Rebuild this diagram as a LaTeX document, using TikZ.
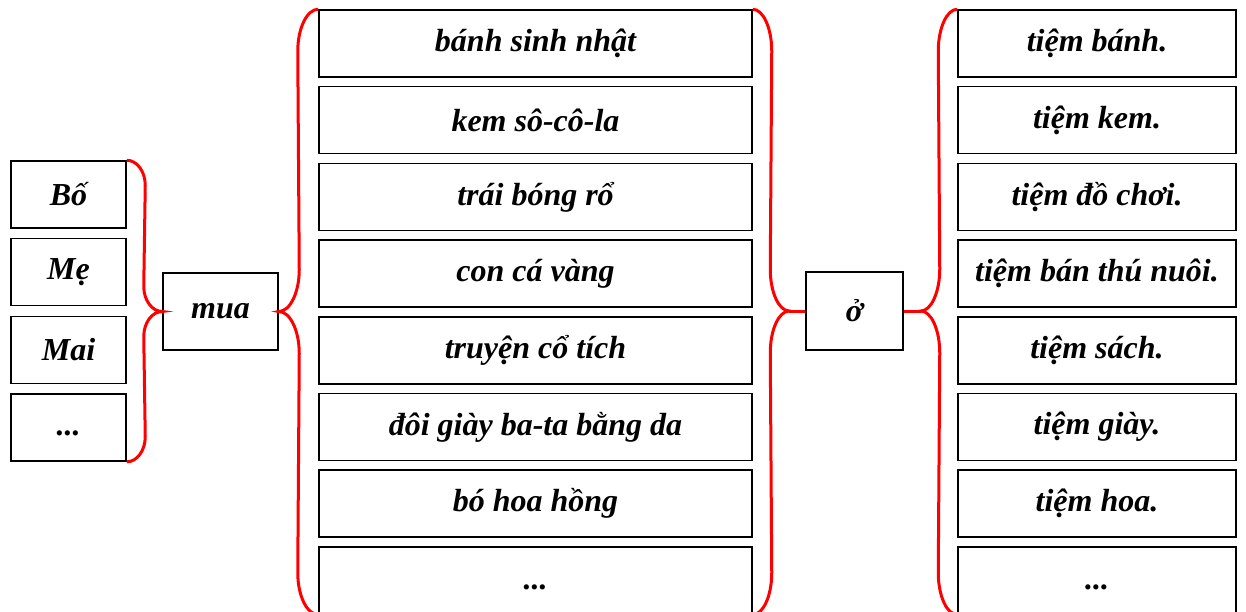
\documentclass[tikz,border=0pt]{standalone}
\usepackage{fontspec}
\setmainfont{Liberation Serif}
\usetikzlibrary{calc}

\tikzset{
  word/.style={rectangle, draw, line width=1.5pt,
               inner sep=0pt, minimum height=67pt,
               font=\fontsize{32}{38}\selectfont\bfseries\itshape},
  redbrace/.style={draw=red, line width=3pt},
}

% #1 top end, #2 bottom end, #3 tip, #4 bulge (signed), #5 curve height
\newcommand{\curlybrace}[5]{%
  \draw[redbrace] (#1) .. controls +({0.55*(#4)},0) and +(0,{0.55*#5}) .. ($(#1)+(#4,-#5)$)
    -- ($(#3)-(#4,-#5)$) .. controls +(0,{-0.55*#5}) and +({-0.55*(#4)},0) .. (#3)
    .. controls +({-0.55*(#4)},0) and +(0,{0.55*#5}) .. ($(#3)-(#4,#5)$)
    -- ($(#2)+(#4,#5)$) .. controls +(0,{-0.55*#5}) and +({0.55*(#4)},0) .. (#2);}

\begin{document}
\begin{tikzpicture}[x=1pt,y=1pt]
    \useasboundingbox (0,0) rectangle (1246,-612);

    % Who

    \node (bo)  [word, minimum width=115pt] at (68.5,-194.5) {Bố};
    \node (me)  [word, minimum width=115pt] at (68.5,-272.2) {Mẹ};
    \node (mai) [word, minimum width=115pt] at (68.5,-349.9) {Mai};
    \node (etc) [word, minimum width=115pt, text height=22.5pt, text depth=6pt]
          at (68.5,-427.6) {...};

    \node (mua) [word, minimum width=115pt, minimum height=77pt]
          at (220.5,-311.5) {mua};
    \curlybrace{bo.north east}{etc.south east}{mua.west}{18.5}{25}

    % What

    \foreach \txt [count=\i] in {bánh sinh nhật, kem sô-cô-la, trái bóng rổ,
        con cá vàng, truyện cổ tích, đôi giày ba-ta bằng da, bó hoa hồng}
      \node (m\i) [word, minimum width=433pt]
            at (535.5,{-43.5-76.7*(\i-1)}) {\txt};
    \node (m8) [word, minimum width=433pt, text height=24.5pt, text depth=6pt]
          at (535.5,-580.4) {...};
    \curlybrace{m1.north west}{m8.south west}{mua.east}{-20.5}{42}

    % Where

    \node (o) [word, minimum width=97pt, minimum height=78pt]
          at (854.5,-311) {ở};
    \coordinate (oleft) at ($(o.west)+(-16,0)$);
    \coordinate (oright) at ($(o.east)+(17,0)$);
    \curlybrace{m1.north east}{m8.south east}{oleft}{19}{42}
    \draw[redbrace] (oleft) -- (o.west);

    \foreach \txt [count=\i] in {tiệm bánh., tiệm kem., tiệm đồ chơi.,
        tiệm bán thú nuôi., tiệm sách., tiệm giày., tiệm hoa.}
      \node (r\i) [word, minimum width=278pt]
            at (1097,{-43.5-76.7*(\i-1)}) {\txt};
    \node (r8) [word, minimum width=278pt, text height=24.5pt, text depth=6pt]
          at (1097,-580.4) {...};
    \draw[redbrace] (o.east) -- (oright);
    \curlybrace{r1.north west}{r8.south west}{oright}{-19}{42}
\end{tikzpicture}
\end{document}
